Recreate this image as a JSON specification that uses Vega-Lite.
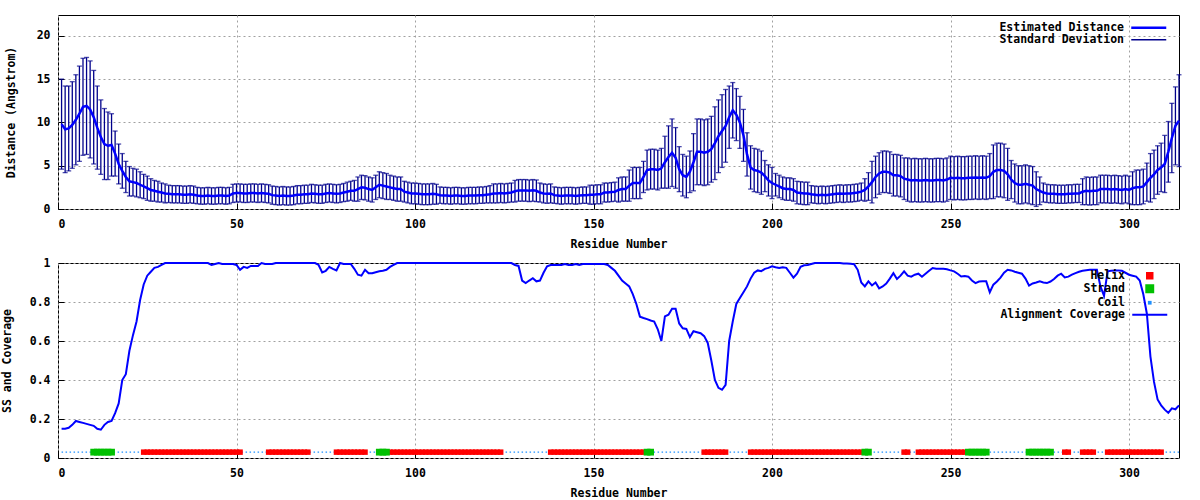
{
"$schema":"https://vega.github.io/schema/vega-lite/v6.json",
"background":"white",
"padding":{"left":0,"top":14,"right":21,"bottom":0},
"config":{
 "font":"DejaVu Sans Mono",
 "view":{"stroke":"#000000","strokeWidth":1},
 "axis":{"labelFont":"DejaVu Sans Mono","labelFontWeight":"bold","labelFontSize":11.5,"labelColor":"#000000","titleFont":"DejaVu Sans Mono","titleFontWeight":"bold","titleFontSize":11.5,"titleColor":"#000000","domain":false,"ticks":true,"tickColor":"#000000","tickSize":-6,"tickWidth":1,"grid":true,"gridColor":"#a0a0a0","gridDash":[2,3],"gridWidth":1,"labelOverlap":false},
 "axisX":{"labelPadding":15,"titlePadding":9},
 "axisY":{"labelPadding":14,"titlePadding":14},
 "legend":{"labelFont":"DejaVu Sans Mono","labelFontWeight":"bold","labelFontSize":11.5,"labelColor":"#000000","labelLimit":300}
},
"datasets":{"res":[
{"r":1,"d":9.8,"sd":5.2,"c":0.15,"ss":"Coil"},
{"r":2,"d":9.2,"sd":5.0,"c":0.15,"ss":"Coil"},
{"r":3,"d":9.3,"sd":4.9,"c":0.155,"ss":"Coil"},
{"r":4,"d":9.7,"sd":5.0,"c":0.17,"ss":"Coil"},
{"r":5,"d":10.3,"sd":5.2,"c":0.19,"ss":"Coil"},
{"r":6,"d":11.0,"sd":5.5,"c":0.185,"ss":"Coil"},
{"r":7,"d":11.8,"sd":5.6,"c":0.18,"ss":"Coil"},
{"r":8,"d":11.9,"sd":5.6,"c":0.175,"ss":"Coil"},
{"r":9,"d":11.5,"sd":5.6,"c":0.17,"ss":"Coil"},
{"r":10,"d":10.6,"sd":5.4,"c":0.165,"ss":"Strand"},
{"r":11,"d":9.4,"sd":4.8,"c":0.15,"ss":"Strand"},
{"r":12,"d":8.3,"sd":4.3,"c":0.145,"ss":"Strand"},
{"r":13,"d":7.5,"sd":4.1,"c":0.17,"ss":"Strand"},
{"r":14,"d":7.3,"sd":3.9,"c":0.185,"ss":"Strand"},
{"r":15,"d":7.4,"sd":3.6,"c":0.19,"ss":"Strand"},
{"r":16,"d":6.4,"sd":2.6,"c":0.23,"ss":"Coil"},
{"r":17,"d":5.2,"sd":2.3,"c":0.28,"ss":"Coil"},
{"r":18,"d":4.4,"sd":2.0,"c":0.40,"ss":"Coil"},
{"r":19,"d":3.7,"sd":1.8,"c":0.43,"ss":"Coil"},
{"r":20,"d":3.2,"sd":1.7,"c":0.55,"ss":"Coil"},
{"r":21,"d":3.1,"sd":1.6,"c":0.63,"ss":"Coil"},
{"r":22,"d":3.0,"sd":1.6,"c":0.70,"ss":"Coil"},
{"r":23,"d":2.8,"sd":1.5,"c":0.81,"ss":"Coil"},
{"r":24,"d":2.6,"sd":1.4,"c":0.89,"ss":"Helix"},
{"r":25,"d":2.4,"sd":1.4,"c":0.935,"ss":"Helix"},
{"r":26,"d":2.2,"sd":1.3,"c":0.955,"ss":"Helix"},
{"r":27,"d":2.1,"sd":1.2,"c":0.975,"ss":"Helix"},
{"r":28,"d":2.0,"sd":1.2,"c":0.98,"ss":"Helix"},
{"r":29,"d":1.9,"sd":1.1,"c":0.99,"ss":"Helix"},
{"r":30,"d":1.8,"sd":1.1,"c":1.0,"ss":"Helix"},
{"r":31,"d":1.75,"sd":1.0,"c":1.0,"ss":"Helix"},
{"r":32,"d":1.7,"sd":1.0,"c":1.0,"ss":"Helix"},
{"r":33,"d":1.7,"sd":1.0,"c":1.0,"ss":"Helix"},
{"r":34,"d":1.7,"sd":1.0,"c":1.0,"ss":"Helix"},
{"r":35,"d":1.65,"sd":1.0,"c":1.0,"ss":"Helix"},
{"r":36,"d":1.65,"sd":1.0,"c":1.0,"ss":"Helix"},
{"r":37,"d":1.7,"sd":1.0,"c":1.0,"ss":"Helix"},
{"r":38,"d":1.65,"sd":1.0,"c":1.0,"ss":"Helix"},
{"r":39,"d":1.55,"sd":0.95,"c":1.0,"ss":"Helix"},
{"r":40,"d":1.5,"sd":0.95,"c":1.0,"ss":"Helix"},
{"r":41,"d":1.5,"sd":0.95,"c":1.0,"ss":"Helix"},
{"r":42,"d":1.55,"sd":0.95,"c":1.0,"ss":"Helix"},
{"r":43,"d":1.5,"sd":0.95,"c":0.99,"ss":"Helix"},
{"r":44,"d":1.5,"sd":0.95,"c":0.995,"ss":"Helix"},
{"r":45,"d":1.55,"sd":0.95,"c":1.0,"ss":"Helix"},
{"r":46,"d":1.55,"sd":0.95,"c":0.995,"ss":"Helix"},
{"r":47,"d":1.5,"sd":0.95,"c":0.995,"ss":"Helix"},
{"r":48,"d":1.55,"sd":0.95,"c":0.995,"ss":"Helix"},
{"r":49,"d":1.8,"sd":1.05,"c":0.995,"ss":"Helix"},
{"r":50,"d":1.85,"sd":1.05,"c":0.99,"ss":"Helix"},
{"r":51,"d":1.85,"sd":1.05,"c":0.965,"ss":"Helix"},
{"r":52,"d":1.8,"sd":1.05,"c":0.98,"ss":"Coil"},
{"r":53,"d":1.8,"sd":1.05,"c":0.975,"ss":"Coil"},
{"r":54,"d":1.85,"sd":1.05,"c":0.985,"ss":"Coil"},
{"r":55,"d":1.85,"sd":1.05,"c":0.985,"ss":"Coil"},
{"r":56,"d":1.8,"sd":1.05,"c":0.985,"ss":"Coil"},
{"r":57,"d":1.85,"sd":1.05,"c":1.0,"ss":"Coil"},
{"r":58,"d":1.8,"sd":1.05,"c":0.995,"ss":"Coil"},
{"r":59,"d":1.75,"sd":1.05,"c":0.995,"ss":"Helix"},
{"r":60,"d":1.6,"sd":1.05,"c":0.995,"ss":"Helix"},
{"r":61,"d":1.55,"sd":1.05,"c":1.0,"ss":"Helix"},
{"r":62,"d":1.5,"sd":1.05,"c":1.0,"ss":"Helix"},
{"r":63,"d":1.55,"sd":1.05,"c":1.0,"ss":"Helix"},
{"r":64,"d":1.5,"sd":1.05,"c":1.0,"ss":"Helix"},
{"r":65,"d":1.5,"sd":1.05,"c":1.0,"ss":"Helix"},
{"r":66,"d":1.55,"sd":1.05,"c":1.0,"ss":"Helix"},
{"r":67,"d":1.65,"sd":1.05,"c":1.0,"ss":"Helix"},
{"r":68,"d":1.65,"sd":1.05,"c":1.0,"ss":"Helix"},
{"r":69,"d":1.7,"sd":1.05,"c":1.0,"ss":"Helix"},
{"r":70,"d":1.7,"sd":1.05,"c":1.0,"ss":"Helix"},
{"r":71,"d":1.8,"sd":1.05,"c":1.0,"ss":"Coil"},
{"r":72,"d":1.75,"sd":1.05,"c":1.0,"ss":"Coil"},
{"r":73,"d":1.7,"sd":1.05,"c":0.99,"ss":"Coil"},
{"r":74,"d":1.7,"sd":1.05,"c":0.952,"ss":"Coil"},
{"r":75,"d":1.8,"sd":1.05,"c":0.96,"ss":"Coil"},
{"r":76,"d":1.85,"sd":1.05,"c":0.98,"ss":"Coil"},
{"r":77,"d":1.8,"sd":1.05,"c":0.97,"ss":"Coil"},
{"r":78,"d":1.75,"sd":1.05,"c":0.962,"ss":"Helix"},
{"r":79,"d":1.8,"sd":1.05,"c":1.0,"ss":"Helix"},
{"r":80,"d":1.9,"sd":1.05,"c":0.995,"ss":"Helix"},
{"r":81,"d":2.0,"sd":1.1,"c":0.995,"ss":"Helix"},
{"r":82,"d":2.1,"sd":1.1,"c":0.995,"ss":"Helix"},
{"r":83,"d":2.1,"sd":1.2,"c":0.97,"ss":"Helix"},
{"r":84,"d":2.3,"sd":1.4,"c":0.94,"ss":"Helix"},
{"r":85,"d":2.5,"sd":1.4,"c":0.935,"ss":"Helix"},
{"r":86,"d":2.45,"sd":1.4,"c":0.965,"ss":"Helix"},
{"r":87,"d":2.3,"sd":1.4,"c":0.947,"ss":"Coil"},
{"r":88,"d":2.2,"sd":1.4,"c":0.948,"ss":"Coil"},
{"r":89,"d":2.5,"sd":1.4,"c":0.953,"ss":"Coil"},
{"r":90,"d":2.8,"sd":1.5,"c":0.958,"ss":"Strand"},
{"r":91,"d":2.7,"sd":1.5,"c":0.96,"ss":"Strand"},
{"r":92,"d":2.6,"sd":1.5,"c":0.965,"ss":"Strand"},
{"r":93,"d":2.5,"sd":1.4,"c":0.98,"ss":"Helix"},
{"r":94,"d":2.4,"sd":1.4,"c":0.99,"ss":"Helix"},
{"r":95,"d":2.3,"sd":1.4,"c":1.0,"ss":"Helix"},
{"r":96,"d":2.3,"sd":1.4,"c":1.0,"ss":"Helix"},
{"r":97,"d":2.0,"sd":1.2,"c":1.0,"ss":"Helix"},
{"r":98,"d":1.9,"sd":1.2,"c":1.0,"ss":"Helix"},
{"r":99,"d":1.8,"sd":1.2,"c":1.0,"ss":"Helix"},
{"r":100,"d":1.8,"sd":1.2,"c":1.0,"ss":"Helix"},
{"r":101,"d":1.75,"sd":1.2,"c":1.0,"ss":"Helix"},
{"r":102,"d":1.7,"sd":1.2,"c":1.0,"ss":"Helix"},
{"r":103,"d":1.7,"sd":1.2,"c":1.0,"ss":"Helix"},
{"r":104,"d":1.7,"sd":1.2,"c":1.0,"ss":"Helix"},
{"r":105,"d":1.75,"sd":1.2,"c":1.0,"ss":"Helix"},
{"r":106,"d":1.7,"sd":1.15,"c":1.0,"ss":"Helix"},
{"r":107,"d":1.6,"sd":0.95,"c":1.0,"ss":"Helix"},
{"r":108,"d":1.55,"sd":0.95,"c":1.0,"ss":"Helix"},
{"r":109,"d":1.55,"sd":0.95,"c":1.0,"ss":"Helix"},
{"r":110,"d":1.5,"sd":0.95,"c":1.0,"ss":"Helix"},
{"r":111,"d":1.55,"sd":0.95,"c":1.0,"ss":"Helix"},
{"r":112,"d":1.55,"sd":0.95,"c":1.0,"ss":"Helix"},
{"r":113,"d":1.5,"sd":0.95,"c":1.0,"ss":"Helix"},
{"r":114,"d":1.5,"sd":0.95,"c":1.0,"ss":"Helix"},
{"r":115,"d":1.55,"sd":0.95,"c":1.0,"ss":"Helix"},
{"r":116,"d":1.55,"sd":0.95,"c":1.0,"ss":"Helix"},
{"r":117,"d":1.55,"sd":0.95,"c":1.0,"ss":"Helix"},
{"r":118,"d":1.6,"sd":0.95,"c":1.0,"ss":"Helix"},
{"r":119,"d":1.6,"sd":0.95,"c":1.0,"ss":"Helix"},
{"r":120,"d":1.65,"sd":0.95,"c":1.0,"ss":"Helix"},
{"r":121,"d":1.7,"sd":1.0,"c":1.0,"ss":"Helix"},
{"r":122,"d":1.8,"sd":1.1,"c":1.0,"ss":"Helix"},
{"r":123,"d":1.8,"sd":1.1,"c":1.0,"ss":"Helix"},
{"r":124,"d":1.85,"sd":1.1,"c":1.0,"ss":"Helix"},
{"r":125,"d":1.8,"sd":1.1,"c":1.0,"ss":"Coil"},
{"r":126,"d":1.85,"sd":1.1,"c":1.0,"ss":"Coil"},
{"r":127,"d":1.9,"sd":1.1,"c":1.0,"ss":"Coil"},
{"r":128,"d":2.05,"sd":1.25,"c":0.99,"ss":"Coil"},
{"r":129,"d":2.15,"sd":1.25,"c":0.985,"ss":"Coil"},
{"r":130,"d":2.15,"sd":1.25,"c":0.91,"ss":"Coil"},
{"r":131,"d":2.15,"sd":1.25,"c":0.897,"ss":"Coil"},
{"r":132,"d":2.1,"sd":1.25,"c":0.91,"ss":"Coil"},
{"r":133,"d":2.15,"sd":1.25,"c":0.922,"ss":"Coil"},
{"r":134,"d":2.1,"sd":1.25,"c":0.906,"ss":"Coil"},
{"r":135,"d":1.9,"sd":1.1,"c":0.91,"ss":"Coil"},
{"r":136,"d":1.8,"sd":1.1,"c":0.95,"ss":"Coil"},
{"r":137,"d":1.75,"sd":1.1,"c":0.983,"ss":"Coil"},
{"r":138,"d":1.8,"sd":1.1,"c":0.99,"ss":"Helix"},
{"r":139,"d":1.6,"sd":0.95,"c":0.99,"ss":"Helix"},
{"r":140,"d":1.55,"sd":0.95,"c":0.99,"ss":"Helix"},
{"r":141,"d":1.5,"sd":0.95,"c":0.99,"ss":"Helix"},
{"r":142,"d":1.55,"sd":0.95,"c":0.995,"ss":"Helix"},
{"r":143,"d":1.55,"sd":0.95,"c":0.99,"ss":"Helix"},
{"r":144,"d":1.55,"sd":0.95,"c":0.99,"ss":"Helix"},
{"r":145,"d":1.5,"sd":0.95,"c":0.995,"ss":"Helix"},
{"r":146,"d":1.55,"sd":0.95,"c":0.99,"ss":"Helix"},
{"r":147,"d":1.6,"sd":0.95,"c":0.995,"ss":"Helix"},
{"r":148,"d":1.6,"sd":0.95,"c":0.995,"ss":"Helix"},
{"r":149,"d":1.65,"sd":1.1,"c":0.995,"ss":"Helix"},
{"r":150,"d":1.65,"sd":1.1,"c":0.995,"ss":"Helix"},
{"r":151,"d":1.7,"sd":1.1,"c":0.995,"ss":"Helix"},
{"r":152,"d":1.7,"sd":1.1,"c":0.995,"ss":"Helix"},
{"r":153,"d":1.9,"sd":1.1,"c":0.995,"ss":"Helix"},
{"r":154,"d":1.9,"sd":1.1,"c":0.99,"ss":"Helix"},
{"r":155,"d":1.95,"sd":1.1,"c":0.975,"ss":"Helix"},
{"r":156,"d":2.0,"sd":1.1,"c":0.96,"ss":"Helix"},
{"r":157,"d":2.2,"sd":1.4,"c":0.935,"ss":"Helix"},
{"r":158,"d":2.3,"sd":1.4,"c":0.91,"ss":"Helix"},
{"r":159,"d":2.3,"sd":1.4,"c":0.895,"ss":"Helix"},
{"r":160,"d":2.7,"sd":1.8,"c":0.88,"ss":"Helix"},
{"r":161,"d":3.0,"sd":1.8,"c":0.84,"ss":"Helix"},
{"r":162,"d":3.0,"sd":1.8,"c":0.79,"ss":"Helix"},
{"r":163,"d":3.0,"sd":1.8,"c":0.725,"ss":"Helix"},
{"r":164,"d":3.7,"sd":1.8,"c":0.718,"ss":"Helix"},
{"r":165,"d":4.5,"sd":2.3,"c":0.712,"ss":"Strand"},
{"r":166,"d":4.6,"sd":2.3,"c":0.705,"ss":"Strand"},
{"r":167,"d":4.6,"sd":2.3,"c":0.70,"ss":"Coil"},
{"r":168,"d":4.5,"sd":2.3,"c":0.66,"ss":"Coil"},
{"r":169,"d":4.7,"sd":2.3,"c":0.60,"ss":"Coil"},
{"r":170,"d":5.4,"sd":3.0,"c":0.726,"ss":"Coil"},
{"r":171,"d":6.0,"sd":3.6,"c":0.735,"ss":"Coil"},
{"r":172,"d":6.5,"sd":3.9,"c":0.765,"ss":"Coil"},
{"r":173,"d":5.9,"sd":3.5,"c":0.765,"ss":"Coil"},
{"r":174,"d":4.6,"sd":2.6,"c":0.69,"ss":"Coil"},
{"r":175,"d":3.9,"sd":2.4,"c":0.665,"ss":"Coil"},
{"r":176,"d":3.7,"sd":2.4,"c":0.662,"ss":"Coil"},
{"r":177,"d":4.3,"sd":2.4,"c":0.62,"ss":"Coil"},
{"r":178,"d":5.4,"sd":3.3,"c":0.65,"ss":"Coil"},
{"r":179,"d":6.6,"sd":3.8,"c":0.645,"ss":"Coil"},
{"r":180,"d":6.6,"sd":3.8,"c":0.64,"ss":"Coil"},
{"r":181,"d":6.5,"sd":3.8,"c":0.625,"ss":"Helix"},
{"r":182,"d":6.6,"sd":3.8,"c":0.59,"ss":"Helix"},
{"r":183,"d":6.9,"sd":3.8,"c":0.50,"ss":"Helix"},
{"r":184,"d":7.6,"sd":4.2,"c":0.40,"ss":"Helix"},
{"r":185,"d":8.4,"sd":4.2,"c":0.36,"ss":"Helix"},
{"r":186,"d":9.0,"sd":4.2,"c":0.35,"ss":"Helix"},
{"r":187,"d":9.6,"sd":4.2,"c":0.375,"ss":"Helix"},
{"r":188,"d":10.6,"sd":3.6,"c":0.60,"ss":"Coil"},
{"r":189,"d":11.4,"sd":3.2,"c":0.70,"ss":"Coil"},
{"r":190,"d":10.9,"sd":3.0,"c":0.79,"ss":"Coil"},
{"r":191,"d":10.0,"sd":3.0,"c":0.82,"ss":"Coil"},
{"r":192,"d":8.5,"sd":3.0,"c":0.85,"ss":"Coil"},
{"r":193,"d":6.3,"sd":2.5,"c":0.88,"ss":"Coil"},
{"r":194,"d":4.8,"sd":2.5,"c":0.92,"ss":"Helix"},
{"r":195,"d":4.5,"sd":2.5,"c":0.95,"ss":"Helix"},
{"r":196,"d":4.4,"sd":2.5,"c":0.962,"ss":"Helix"},
{"r":197,"d":4.2,"sd":2.5,"c":0.958,"ss":"Helix"},
{"r":198,"d":3.8,"sd":1.8,"c":0.97,"ss":"Helix"},
{"r":199,"d":3.3,"sd":1.8,"c":0.975,"ss":"Helix"},
{"r":200,"d":3.0,"sd":1.8,"c":0.983,"ss":"Helix"},
{"r":201,"d":2.8,"sd":1.3,"c":0.978,"ss":"Helix"},
{"r":202,"d":2.6,"sd":1.3,"c":0.974,"ss":"Helix"},
{"r":203,"d":2.4,"sd":1.3,"c":0.978,"ss":"Helix"},
{"r":204,"d":2.3,"sd":1.3,"c":0.975,"ss":"Helix"},
{"r":205,"d":2.3,"sd":1.3,"c":0.95,"ss":"Helix"},
{"r":206,"d":2.2,"sd":1.3,"c":0.925,"ss":"Helix"},
{"r":207,"d":1.9,"sd":1.3,"c":0.945,"ss":"Helix"},
{"r":208,"d":1.85,"sd":1.3,"c":0.98,"ss":"Helix"},
{"r":209,"d":1.8,"sd":1.3,"c":0.988,"ss":"Helix"},
{"r":210,"d":1.8,"sd":1.3,"c":0.99,"ss":"Helix"},
{"r":211,"d":1.7,"sd":1.0,"c":0.995,"ss":"Helix"},
{"r":212,"d":1.65,"sd":1.0,"c":1.0,"ss":"Helix"},
{"r":213,"d":1.6,"sd":1.0,"c":1.0,"ss":"Helix"},
{"r":214,"d":1.65,"sd":1.0,"c":1.0,"ss":"Helix"},
{"r":215,"d":1.6,"sd":1.0,"c":1.0,"ss":"Helix"},
{"r":216,"d":1.65,"sd":1.0,"c":1.0,"ss":"Helix"},
{"r":217,"d":1.7,"sd":1.0,"c":1.0,"ss":"Helix"},
{"r":218,"d":1.75,"sd":1.0,"c":1.0,"ss":"Helix"},
{"r":219,"d":1.8,"sd":1.0,"c":1.0,"ss":"Helix"},
{"r":220,"d":1.75,"sd":1.0,"c":0.998,"ss":"Helix"},
{"r":221,"d":1.8,"sd":1.0,"c":0.998,"ss":"Helix"},
{"r":222,"d":1.8,"sd":1.0,"c":0.996,"ss":"Helix"},
{"r":223,"d":1.85,"sd":1.0,"c":0.994,"ss":"Helix"},
{"r":224,"d":1.9,"sd":1.0,"c":0.965,"ss":"Helix"},
{"r":225,"d":2.0,"sd":1.0,"c":0.90,"ss":"Helix"},
{"r":226,"d":2.2,"sd":1.3,"c":0.88,"ss":"Strand"},
{"r":227,"d":2.6,"sd":1.6,"c":0.906,"ss":"Strand"},
{"r":228,"d":3.1,"sd":2.4,"c":0.885,"ss":"Coil"},
{"r":229,"d":3.7,"sd":2.4,"c":0.9,"ss":"Coil"},
{"r":230,"d":4.1,"sd":2.4,"c":0.87,"ss":"Coil"},
{"r":231,"d":4.3,"sd":2.4,"c":0.88,"ss":"Coil"},
{"r":232,"d":4.3,"sd":2.4,"c":0.895,"ss":"Coil"},
{"r":233,"d":4.2,"sd":2.4,"c":0.92,"ss":"Coil"},
{"r":234,"d":3.9,"sd":2.4,"c":0.948,"ss":"Coil"},
{"r":235,"d":3.9,"sd":2.4,"c":0.918,"ss":"Coil"},
{"r":236,"d":3.8,"sd":2.4,"c":0.935,"ss":"Coil"},
{"r":237,"d":3.5,"sd":2.4,"c":0.957,"ss":"Helix"},
{"r":238,"d":3.4,"sd":2.5,"c":0.935,"ss":"Helix"},
{"r":239,"d":3.3,"sd":2.5,"c":0.93,"ss":"Coil"},
{"r":240,"d":3.35,"sd":2.5,"c":0.94,"ss":"Coil"},
{"r":241,"d":3.3,"sd":2.5,"c":0.945,"ss":"Helix"},
{"r":242,"d":3.3,"sd":2.5,"c":0.93,"ss":"Helix"},
{"r":243,"d":3.35,"sd":2.5,"c":0.945,"ss":"Helix"},
{"r":244,"d":3.3,"sd":2.5,"c":0.96,"ss":"Helix"},
{"r":245,"d":3.3,"sd":2.5,"c":0.974,"ss":"Helix"},
{"r":246,"d":3.35,"sd":2.5,"c":0.97,"ss":"Helix"},
{"r":247,"d":3.35,"sd":2.5,"c":0.97,"ss":"Helix"},
{"r":248,"d":3.3,"sd":2.5,"c":0.97,"ss":"Helix"},
{"r":249,"d":3.4,"sd":2.5,"c":0.968,"ss":"Helix"},
{"r":250,"d":3.6,"sd":2.5,"c":0.962,"ss":"Helix"},
{"r":251,"d":3.55,"sd":2.5,"c":0.957,"ss":"Helix"},
{"r":252,"d":3.6,"sd":2.5,"c":0.945,"ss":"Helix"},
{"r":253,"d":3.55,"sd":2.5,"c":0.931,"ss":"Helix"},
{"r":254,"d":3.55,"sd":2.5,"c":0.933,"ss":"Helix"},
{"r":255,"d":3.6,"sd":2.5,"c":0.93,"ss":"Strand"},
{"r":256,"d":3.6,"sd":2.5,"c":0.91,"ss":"Strand"},
{"r":257,"d":3.65,"sd":2.5,"c":0.897,"ss":"Strand"},
{"r":258,"d":3.6,"sd":2.5,"c":0.905,"ss":"Strand"},
{"r":259,"d":3.65,"sd":2.5,"c":0.906,"ss":"Strand"},
{"r":260,"d":3.6,"sd":2.5,"c":0.906,"ss":"Strand"},
{"r":261,"d":3.8,"sd":2.6,"c":0.85,"ss":"Coil"},
{"r":262,"d":4.3,"sd":3.1,"c":0.889,"ss":"Coil"},
{"r":263,"d":4.5,"sd":3.1,"c":0.905,"ss":"Coil"},
{"r":264,"d":4.5,"sd":3.1,"c":0.925,"ss":"Coil"},
{"r":265,"d":4.4,"sd":3.1,"c":0.95,"ss":"Coil"},
{"r":266,"d":4.0,"sd":3.0,"c":0.965,"ss":"Coil"},
{"r":267,"d":3.4,"sd":2.2,"c":0.962,"ss":"Coil"},
{"r":268,"d":3.0,"sd":2.2,"c":0.955,"ss":"Coil"},
{"r":269,"d":2.8,"sd":2.2,"c":0.95,"ss":"Coil"},
{"r":270,"d":2.8,"sd":2.2,"c":0.945,"ss":"Coil"},
{"r":271,"d":2.9,"sd":2.2,"c":0.92,"ss":"Coil"},
{"r":272,"d":2.8,"sd":2.2,"c":0.884,"ss":"Strand"},
{"r":273,"d":2.7,"sd":2.2,"c":0.895,"ss":"Strand"},
{"r":274,"d":2.3,"sd":2.0,"c":0.9,"ss":"Strand"},
{"r":275,"d":2.1,"sd":1.6,"c":0.906,"ss":"Strand"},
{"r":276,"d":1.9,"sd":1.1,"c":0.9,"ss":"Strand"},
{"r":277,"d":1.8,"sd":1.05,"c":0.897,"ss":"Strand"},
{"r":278,"d":1.75,"sd":1.05,"c":0.905,"ss":"Strand"},
{"r":279,"d":1.75,"sd":1.05,"c":0.918,"ss":"Coil"},
{"r":280,"d":1.7,"sd":1.05,"c":0.935,"ss":"Coil"},
{"r":281,"d":1.7,"sd":1.05,"c":0.945,"ss":"Coil"},
{"r":282,"d":1.7,"sd":1.05,"c":0.926,"ss":"Helix"},
{"r":283,"d":1.75,"sd":1.05,"c":0.93,"ss":"Helix"},
{"r":284,"d":1.75,"sd":1.05,"c":0.94,"ss":"Coil"},
{"r":285,"d":1.8,"sd":1.05,"c":0.948,"ss":"Coil"},
{"r":286,"d":1.8,"sd":1.05,"c":0.955,"ss":"Coil"},
{"r":287,"d":2.0,"sd":1.5,"c":0.96,"ss":"Helix"},
{"r":288,"d":2.1,"sd":1.6,"c":0.963,"ss":"Helix"},
{"r":289,"d":2.05,"sd":1.6,"c":0.965,"ss":"Helix"},
{"r":290,"d":2.1,"sd":1.6,"c":0.965,"ss":"Helix"},
{"r":291,"d":2.1,"sd":1.6,"c":0.965,"ss":"Coil"},
{"r":292,"d":2.3,"sd":1.6,"c":0.88,"ss":"Coil"},
{"r":293,"d":2.3,"sd":1.6,"c":0.832,"ss":"Coil"},
{"r":294,"d":2.3,"sd":1.6,"c":0.957,"ss":"Helix"},
{"r":295,"d":2.25,"sd":1.6,"c":0.96,"ss":"Helix"},
{"r":296,"d":2.3,"sd":1.6,"c":0.962,"ss":"Helix"},
{"r":297,"d":2.25,"sd":1.6,"c":0.962,"ss":"Helix"},
{"r":298,"d":2.2,"sd":1.6,"c":0.96,"ss":"Helix"},
{"r":299,"d":2.3,"sd":1.6,"c":0.95,"ss":"Helix"},
{"r":300,"d":2.2,"sd":1.6,"c":0.94,"ss":"Helix"},
{"r":301,"d":2.4,"sd":1.9,"c":0.935,"ss":"Helix"},
{"r":302,"d":2.5,"sd":2.0,"c":0.93,"ss":"Helix"},
{"r":303,"d":2.5,"sd":2.0,"c":0.91,"ss":"Helix"},
{"r":304,"d":2.6,"sd":2.0,"c":0.84,"ss":"Helix"},
{"r":305,"d":3.1,"sd":2.2,"c":0.74,"ss":"Helix"},
{"r":306,"d":3.6,"sd":2.8,"c":0.52,"ss":"Helix"},
{"r":307,"d":4.0,"sd":2.8,"c":0.39,"ss":"Helix"},
{"r":308,"d":4.5,"sd":2.8,"c":0.30,"ss":"Helix"},
{"r":309,"d":4.8,"sd":2.8,"c":0.27,"ss":"Helix"},
{"r":310,"d":5.2,"sd":3.3,"c":0.248,"ss":"Coil"},
{"r":311,"d":6.6,"sd":3.5,"c":0.232,"ss":"Coil"},
{"r":312,"d":8.2,"sd":4.0,"c":0.255,"ss":"Coil"},
{"r":313,"d":9.6,"sd":4.5,"c":0.25,"ss":"Coil"},
{"r":314,"d":10.2,"sd":5.3,"c":0.27,"ss":"Coil"}
]},
"concat":[
 {
  "width":1121,"height":194,
  "data":{"name":"res"},
  "encoding":{
   "x":{"field":"r","type":"quantitative","scale":{"domain":[0,314],"nice":false,"zero":false},"axis":{"values":[0,50,100,150,200,250,300],"format":"d","tickCount":20},"title":"Residue Number"}
  },
  "layer":[
   {"mark":{"type":"errorbar","ticks":{"size":5,"thickness":1.3},"thickness":1.3},
    "encoding":{
     "y":{"field":"d","type":"quantitative","scale":{"domain":[0,22.4],"nice":false},"axis":{"values":[0,5,10,15,20],"tickCount":10,"titlePadding":20},"title":"Distance (Angstrom)"},
     "yError":{"field":"sd"},
     "color":{"datum":"Standard Deviation","type":"nominal","title":null,"scale":{"domain":["Estimated Distance","Standard Deviation"],"range":["#0000ff","#00008b"]},
      "legend":{"title":null,"orient":"top-right","offset":7,"padding":0,"rowPadding":-1,"labelAlign":"right","labelOffset":-30.5,"symbolType":"stroke","symbolSize":100,"symbolStrokeWidth":2,
       "encode":{"symbols":{"update":{"size":{"value":1225},
        "stroke":{"signal":"datum.value === 'Estimated Distance' ? '#0000ff' : '#00008b'"},
        "strokeWidth":{"signal":"datum.value === 'Estimated Distance' ? 2.5 : 1.5"},"opacity":{"value":1}}}}}}
    }},
   {"mark":{"type":"line","strokeWidth":2.5},
    "encoding":{
     "y":{"field":"d","type":"quantitative","title":"Distance (Angstrom)"},
     "color":{"datum":"Estimated Distance","type":"nominal","title":null}
    }}
  ]
 },
 {
  "width":1121,"height":195,
  "data":{"name":"res"},
  "encoding":{
   "x":{"field":"r","type":"quantitative","scale":{"domain":[0,314],"nice":false,"zero":false},"axis":{"values":[0,50,100,150,200,250,300],"format":"d","tickCount":20},"title":"Residue Number"}
  },
  "layer":[
   {"mark":{"type":"line","strokeDash":[1.5,2.5],"strokeWidth":1.3},
    "encoding":{
     "y":{"datum":0.03,"type":"quantitative","scale":{"domain":[0,1],"nice":false},"axis":{"values":[0,0.2,0.4,0.6,0.8,1],"format":"~g","tickCount":12,"titlePadding":17},"title":"SS and Coverage"},
     "color":{"datum":"Coil","type":"nominal","title":null,"scale":{"domain":["Helix","Strand","Coil","Alignment Coverage"],"range":["#ff0000","#00c000","#1e90ff","#0000ff"]},
      "legend":{"title":null,"orient":"top-right","offset":7,"padding":0,"rowPadding":-2,"labelAlign":"right","labelOffset":-30.5,"symbolType":"stroke","symbolSize":100,"symbolStrokeWidth":2,
       "encode":{"symbols":{"update":{
        "shape":{"signal":"datum.value === 'Alignment Coverage' ? 'stroke' : 'square'"},
        "size":{"signal":"datum.value === 'Alignment Coverage' ? 1225 : datum.value === 'Helix' ? 30 : datum.value === 'Strand' ? 48 : 3"},
        "fill":{"signal":"datum.value === 'Helix' ? '#ff0000' : datum.value === 'Strand' ? '#00c000' : datum.value === 'Coil' ? '#1e90ff' : 'transparent'"},
        "stroke":{"signal":"datum.value === 'Alignment Coverage' ? '#0000ff' : 'transparent'"},
        "strokeWidth":{"value":2},
        "strokeDash":{"value":[]},
        "opacity":{"value":1}
       }}}}}
    }},
   {"transform":[{"filter":"datum.ss === 'Helix'"}],
    "mark":{"type":"square","size":30,"filled":true,"opacity":1},
    "encoding":{
     "y":{"datum":0.03,"type":"quantitative","title":"SS and Coverage"},
     "color":{"field":"ss","type":"nominal","title":null}
    }},
   {"transform":[{"filter":"datum.ss === 'Strand'"}],
    "mark":{"type":"square","size":46,"filled":true,"opacity":1},
    "encoding":{
     "y":{"datum":0.03,"type":"quantitative","title":"SS and Coverage"},
     "color":{"field":"ss","type":"nominal","title":null}
    }},
   {"mark":{"type":"line","strokeWidth":2},
    "encoding":{
     "y":{"field":"c","type":"quantitative","title":"SS and Coverage"},
     "color":{"datum":"Alignment Coverage","type":"nominal","title":null}
    }}
  ]
 }
],
"columns":1,
"align":"none",
"spacing":5,
"resolve":{"scale":{"x":"independent","y":"independent","color":"independent"},"legend":{"color":"independent"}}
}
